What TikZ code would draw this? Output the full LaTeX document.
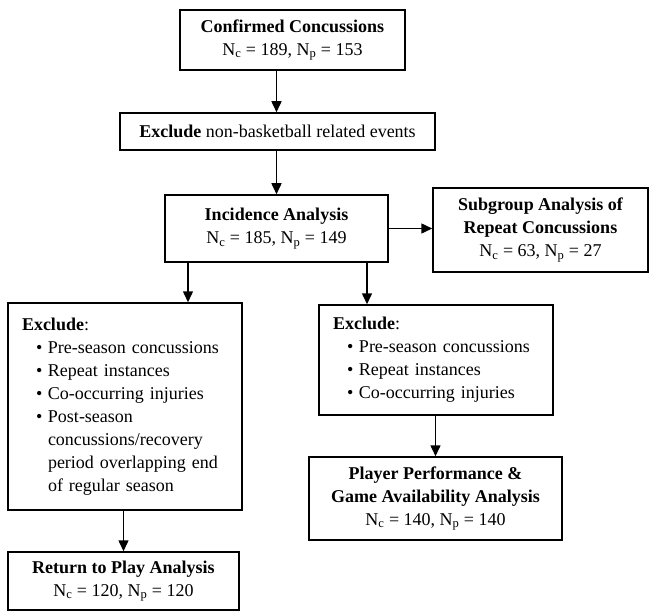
\documentclass[tikz,border=0pt]{standalone}
\usepackage{fontspec}
\setmainfont{Liberation Serif}
\usetikzlibrary{arrows.meta,calc}
\newcommand{\myNc}{N\textsubscript{c}}
\newcommand{\myNp}{N\textsubscript{p}}
\newcommand{\myitem}{\hspace*{14pt}\makebox[12pt][l]{\textbullet}}
\newcommand{\mycont}{\hspace*{26pt}}
\begin{document}
\begin{tikzpicture}[x=1pt,y=-1pt,
  box/.style={draw, line width=1.5pt, inner sep=0pt, align=center,
    font=\fontsize{18}{23}\selectfont},
  lbox/.style={box, align=left, inner xsep=14pt},
  arr/.style={line width=1.5pt, -{Triangle[length=11pt,width=10pt]}}]
\useasboundingbox (0,0) rectangle (650,612);
\node[box, minimum width=225pt, minimum height=60pt] (B1) at (292.5,40)
  {\textbf{Confirmed Concussions}\\ \myNc{} = 189, \myNp{} = 153};
\node[box, minimum width=315pt, minimum height=37pt] (B2) at (277.5,131.5)
  {\textbf{Exclude} non-basketball related events};
\node[box, minimum width=223pt, minimum height=67pt] (B3) at (276.5,228.5)
  {\textbf{Incidence Analysis}\\ \myNc{} = 185, \myNp{} = 149};
\node[box, minimum width=215pt, minimum height=84pt] (B4) at (540.5,230)
  {\textbf{Subgroup Analysis of}\\ \textbf{Repeat Concussions}\\ \myNc{} = 63, \myNp{} = 27};
\node[lbox, text width=206pt, minimum height=207pt] (B5) at (125,406.5)
  {\textbf{Exclude}:\\
   \myitem Pre-season concussions\\
   \myitem Repeat instances\\
   \myitem Co-occurring injuries\\
   \myitem Post-season\\
   \mycont concussions/recovery\\
   \mycont period overlapping end\\
   \mycont of regular season};
\node[lbox, text width=206pt, minimum height=110pt] (B6) at (436,360)
  {\textbf{Exclude}:\\
   \myitem Pre-season concussions\\
   \myitem Repeat instances\\
   \myitem Co-occurring injuries};
\node[box, minimum width=231pt, minimum height=58pt] (B7) at (123.5,581)
  {\textbf{Return to Play Analysis}\\ \myNc{} = 120, \myNp{} = 120};
\node[box, minimum width=253pt, minimum height=83pt] (B8) at (435.5,498.5)
  {\textbf{Player Performance \&}\\ \textbf{Game Availability Analysis}\\ \myNc{} = 140, \myNp{} = 140};
\coordinate (L) at (188,0);
\coordinate (R) at (367,0);
\draw[arr] (B1.south -| B3.north) -- (B2.north -| B3.north);
\draw[arr] (B2.south -| B3.north) -- (B3.north);
\draw[arr] (B3.east) -- (B3.east -| B4.west);
\draw[arr] (B3.south -| L) -- (B5.north -| L);
\draw[arr] (B3.south -| R) -- (B6.north -| R);
\draw[arr] (B5.south -| B7.north) -- (B7.north);
\draw[arr] (B6.south -| B8.north) -- (B8.north);
\end{tikzpicture}
\end{document}
